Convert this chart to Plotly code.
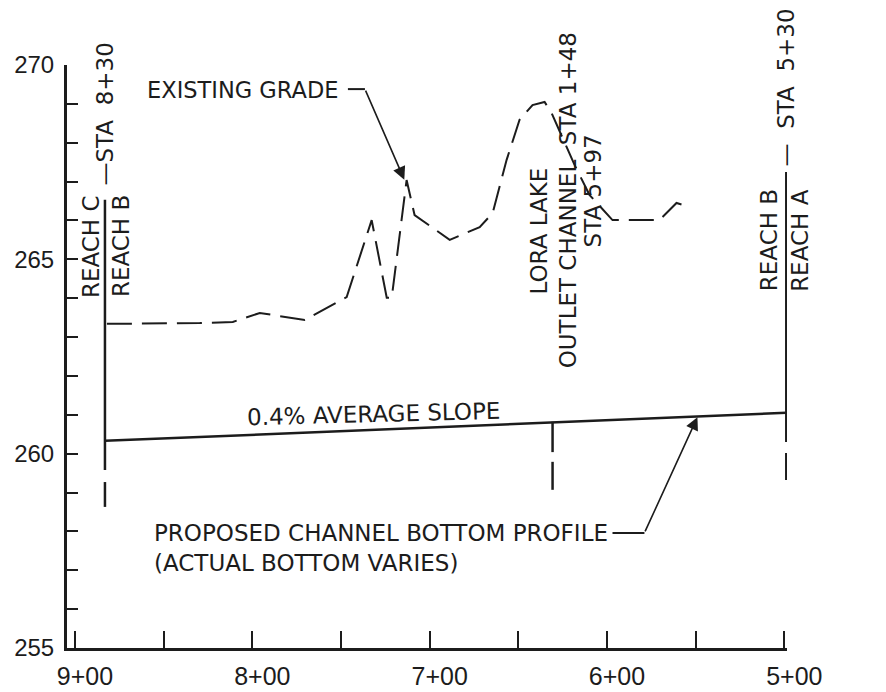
import plotly.graph_objects as go

# ---- data ----
grade_sta = [882.0, 829.6, 811.0, 795.8, 770.4, 746.8, 732.7, 724.2, 721.4, 713.0, 708.5,
             688.7, 671.8, 664.5, 656.6, 649.3, 642.0, 635.2, 631.3, 618.3, 609.9, 596.9,
             570.4, 560.8, 553.5]
grade_elev = [263.34, 263.36, 263.39, 263.62, 263.44, 264.03, 266.01, 264.01, 264.01, 267.04, 266.14,
              265.50, 265.83, 266.19, 267.56, 268.59, 268.97, 269.05, 268.77, 267.43, 266.66, 266.01,
              266.01, 266.45, 266.35]

bottom_sta = [883.1, 498.9]
bottom_elev = [260.33, 261.05]

left_break_sta = 883.1
left_break_solid = [266.53, 259.58]
left_break_dash = [259.27, 258.63]
right_break_sta = 498.9
right_break_solid = [267.25, 260.30]
right_break_dash = [260.02, 259.32]
mid_sta = 630.7
mid_solid = [260.82, 260.04]
mid_dash = [259.79, 259.07]

x_ticks = [900, 850, 800, 750, 700, 650, 600, 550, 500]
x_labels = ["9+00", "", "8+00", "", "7+00", "", "6+00", "", "5+00"]
y_ticks = list(range(255, 271))
y_labels = [str(v) if v % 5 == 0 else "" for v in y_ticks]

INK = "#1c1c1c"
TICKFONT = "Liberation Sans"
NOTEFONT = "DejaVu Sans"

fig = go.Figure()

fig.add_trace(go.Scatter(x=grade_sta, y=grade_elev, mode="lines",
                         line=dict(color=INK, width=2, dash="25px,10px"), hoverinfo="skip"))
fig.add_trace(go.Scatter(x=bottom_sta, y=bottom_elev, mode="lines",
                         line=dict(color=INK, width=2.5), hoverinfo="skip"))

for sta, solid, dash in [(left_break_sta, left_break_solid, left_break_dash),
                         (right_break_sta, right_break_solid, right_break_dash),
                         (mid_sta, mid_solid, mid_dash)]:
    fig.add_trace(go.Scatter(x=[sta, sta], y=solid, mode="lines",
                             line=dict(color=INK, width=2.5), hoverinfo="skip"))
    fig.add_trace(go.Scatter(x=[sta, sta], y=dash, mode="lines",
                             line=dict(color=INK, width=2.5), hoverinfo="skip"))

# leader lines
fig.add_shape(type="line", x0=746.1, y0=269.38, x1=736.5, y1=269.38,
              line=dict(color=INK, width=2))
fig.add_shape(type="line", x0=596.9, y0=257.96, x1=578.9, y1=257.96,
              line=dict(color=INK, width=2))

fig.add_annotation(x=714.3, y=267.05, ax=736.5, ay=269.38, axref="x", ayref="y",
                   xref="x", yref="y", text="", showarrow=True, arrowhead=2,
                   arrowsize=1.6, arrowwidth=1.6, arrowcolor=INK)
fig.add_annotation(x=549.0, y=260.94, ax=578.9, ay=257.96, axref="x", ayref="y",
                   xref="x", yref="y", text="", showarrow=True, arrowhead=2,
                   arrowsize=1.6, arrowwidth=1.6, arrowcolor=INK)

tf = dict(family=NOTEFONT, size=23, color=INK)
texts = [
    dict(x=860.5, y=269.36, text="EXISTING GRADE", xanchor="left", textangle=0, font=dict(family=NOTEFONT, size=22.5, color=INK)),
    dict(x=731.5, y=261.02, text="0.4% AVERAGE SLOPE", xanchor="center", textangle=-1.5),
    dict(x=856.6, y=257.57, text="PROPOSED CHANNEL BOTTOM PROFILE<br>(ACTUAL BOTTOM VARIES)",
         xanchor="left", textangle=0, align="left"),
    dict(x=891.0, y=265.34, text="REACH C", xanchor="center", textangle=-90),
    dict(x=874.1, y=265.34, text="REACH B", xanchor="center", textangle=-90),
    dict(x=883.1, y=268.75, text="—STA  8+30", xanchor="center", textangle=-90),
    dict(x=508.5, y=265.5, text="REACH B", xanchor="center", textangle=-90),
    dict(x=498.9, y=269.43, text="—  STA  5+30", xanchor="center", textangle=-90),
    dict(x=638.6, y=265.73, text="LORA LAKE", xanchor="center", textangle=-90),
    dict(x=622.3, y=266.53, text="OUTLET CHANNEL  STA 1+48", xanchor="center", textangle=-90),
    dict(x=608.2, y=266.76, text="STA 5+97", xanchor="center", textangle=-90),
]
for t in texts:
    t.setdefault("font", tf)
    fig.add_annotation(xref="x", yref="y", showarrow=False, yanchor="middle", **t)
# label sitting just beyond the right end of the axis range (paper coordinates)
fig.add_annotation(xref="paper", yref="paper", x=1.018, y=0.70, text="REACH A",
                   showarrow=False, font=tf, xanchor="center", yanchor="middle", textangle=-90)

# the page body adds an 8px offset; margins are reduced accordingly
fig.update_layout(
    width=886, height=692,
    margin=dict(l=59, r=107, t=57, b=52),
    paper_bgcolor="white", plot_bgcolor="white",
    showlegend=False,
    xaxis=dict(range=[904.5, 498.5], tickvals=x_ticks, ticktext=x_labels, automargin=False,
               ticks="inside", ticklen=17, tickwidth=2, tickcolor=INK,
               showline=True, linewidth=3, linecolor=INK, showgrid=False, zeroline=False,
               tickfont=dict(family=TICKFONT, size=25, color=INK), ticklabelshift=-10,
               ticklabelstandoff=4),
    yaxis=dict(range=[255, 270], tickvals=y_ticks, ticktext=y_labels, automargin=False,
               ticks="inside", ticklen=11, tickwidth=2, tickcolor=INK,
               showline=True, linewidth=3, linecolor=INK, showgrid=False, zeroline=False,
               tickfont=dict(family=TICKFONT, size=24, color=INK), ticklabelstandoff=5),
)

fig.write_html("out.html")
